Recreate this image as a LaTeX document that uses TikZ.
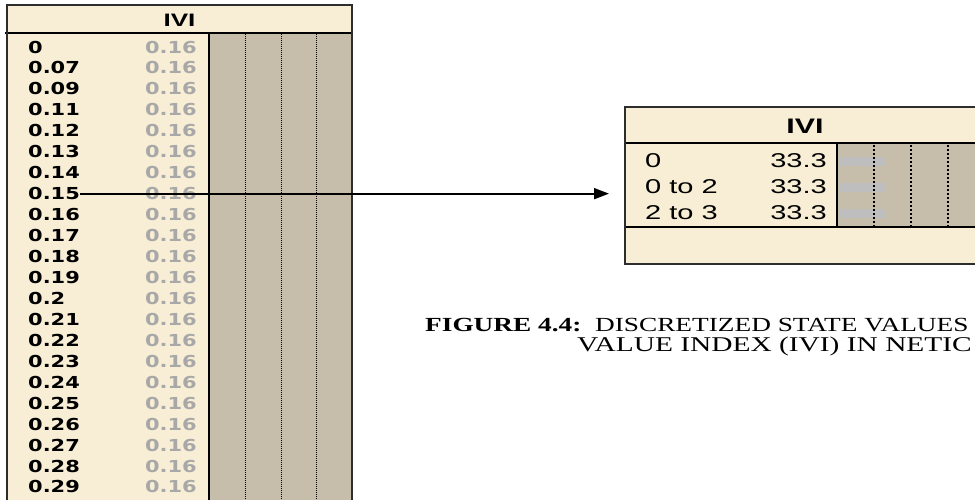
\documentclass[tikz,border=0pt]{standalone}
\usepackage{fontspec}
\usetikzlibrary{arrows.meta}
% Netica-style node fonts (the screen capture is widened, hence FakeStretch)
\newfontfamily\netL[FakeStretch=1.27]{DejaVu Sans}
\newfontfamily\netT[FakeStretch=1.45]{Liberation Sans}
\newfontfamily\netR[FakeStretch=1.45]{Liberation Sans}
\newfontfamily\capfont[FakeStretch=1.365]{Liberation Serif}
\newfontfamily\capfontb[FakeStretch=1.40]{Liberation Serif}
\definecolor{nodecream}{RGB}{247,238,213}
\definecolor{barbeige}{RGB}{198,190,170}
\definecolor{valgray}{RGB}{168,168,168}
\definecolor{bargray}{RGB}{190,190,190}
\definecolor{frame}{RGB}{45,45,45}
\tikzset{
  panelframe/.style={draw=frame, line width=1.6pt},
  rule/.style={draw=black, line width=1.8pt},
  ldots/.style={draw=black, line width=0.9pt, dash pattern=on 1pt off 1pt},
  rdots/.style={draw=black, line width=1.2pt, dash pattern=on 1.5pt off 2.5pt},
  ltitle/.style={inner sep=0pt, font=\netT\bfseries\fontsize{18}{20}\selectfont},
  rtitle/.style={inner sep=0pt, font=\netR\bfseries\fontsize{21}{24}\selectfont},
  llabel/.style={inner sep=0pt, anchor=west, font=\netL\bfseries\fontsize{16.5}{20}\selectfont},
  lvalue/.style={llabel, anchor=east, text=valgray},
  rlabel/.style={inner sep=0pt, anchor=west, font=\netR\fontsize{20}{24}\selectfont},
  rvalue/.style={rlabel, anchor=east},
  captext/.style={inner sep=0pt, anchor=base west, font=\capfont\fontsize{20}{24}\selectfont},
  captextb/.style={inner sep=0pt, anchor=base west, font=\capfontb\fontsize{21}{24}\selectfont},
}
\begin{document}
\begin{tikzpicture}[x=1pt,y=-1pt]
\useasboundingbox (0,0) rectangle (975,499);
\clip (0,0) rectangle (975,499);

% ---------- continuous IVI node (left) ----------
\fill[nodecream] (7,5) rectangle (352,505);
\fill[barbeige] (209,33) rectangle (352,505);
\foreach \xx in {245,281,316}
  \draw[ldots] (\xx,34) -- (\xx,505);
\draw[rule] (5,33) -- (352,33);
\draw[rule] (209,33) -- (209,505);
\draw[panelframe] (7,5) rectangle (352,505);
\node[ltitle] (lt) at (179.5,20) {IVI};
\foreach \lab [count=\i from 0] in {0,0.07,0.09,0.11,0.12,0.13,0.14,0.15,0.16,0.17,0.18,0.19,0.2,0.21,0.22,0.23,0.24,0.25,0.26,0.27,0.28,0.29}{
  \node[llabel] (l\i) at (28,{47+20.95*\i}) {\lab};
  \node[lvalue] (v\i) at (197,{47+20.95*\i}) {0.16};
}

% ---------- discretized IVI node (right) ----------
\fill[nodecream] (625,107) rectangle (985,264);
\fill[barbeige] (837,143) rectangle (985,227);
\foreach \yy in {161,187,213}
  \fill[bargray] (839,\yy-4.5) rectangle (886,\yy+4.5);
\foreach \xx in {874,911,948}
  \draw[rdots] (\xx,145) -- (\xx,226);
\draw[rule] (625,143) -- (985,143);
\draw[rule] (625,227) -- (985,227);
\draw[rule] (837,143) -- (837,227);
\draw[panelframe] (625,107) rectangle (985,264);
\node[rtitle] (rt) at (805,126) {IVI};
\node[rlabel] (r0) at (645,161) {0};
\node[rlabel] (r1) at (645,187) {0 to 2};
\node[rlabel] (r2) at (645,213) {2 to 3};
\node[rvalue] (p0) at (827,161) {33.3};
\node[rvalue] (p1) at (827,187) {33.3};
\node[rvalue] (p2) at (827,213) {33.3};

% ---------- mapping arrow ----------
\coordinate (tip) at (609,192);
\draw[line width=1.8pt, -{Triangle[length=15pt,width=11pt]}] (l7.east) -- (l7.east -| tip);

% ---------- caption ----------
\node[captext] (cap1) at (425,331) {\textbf{FIGURE 4.4:}\ \ DISCRETIZED STATE VALUES};
\node[captextb] (cap2) at (577,351) {VALUE INDEX (IVI) IN NETIC};
\end{tikzpicture}
\end{document}
